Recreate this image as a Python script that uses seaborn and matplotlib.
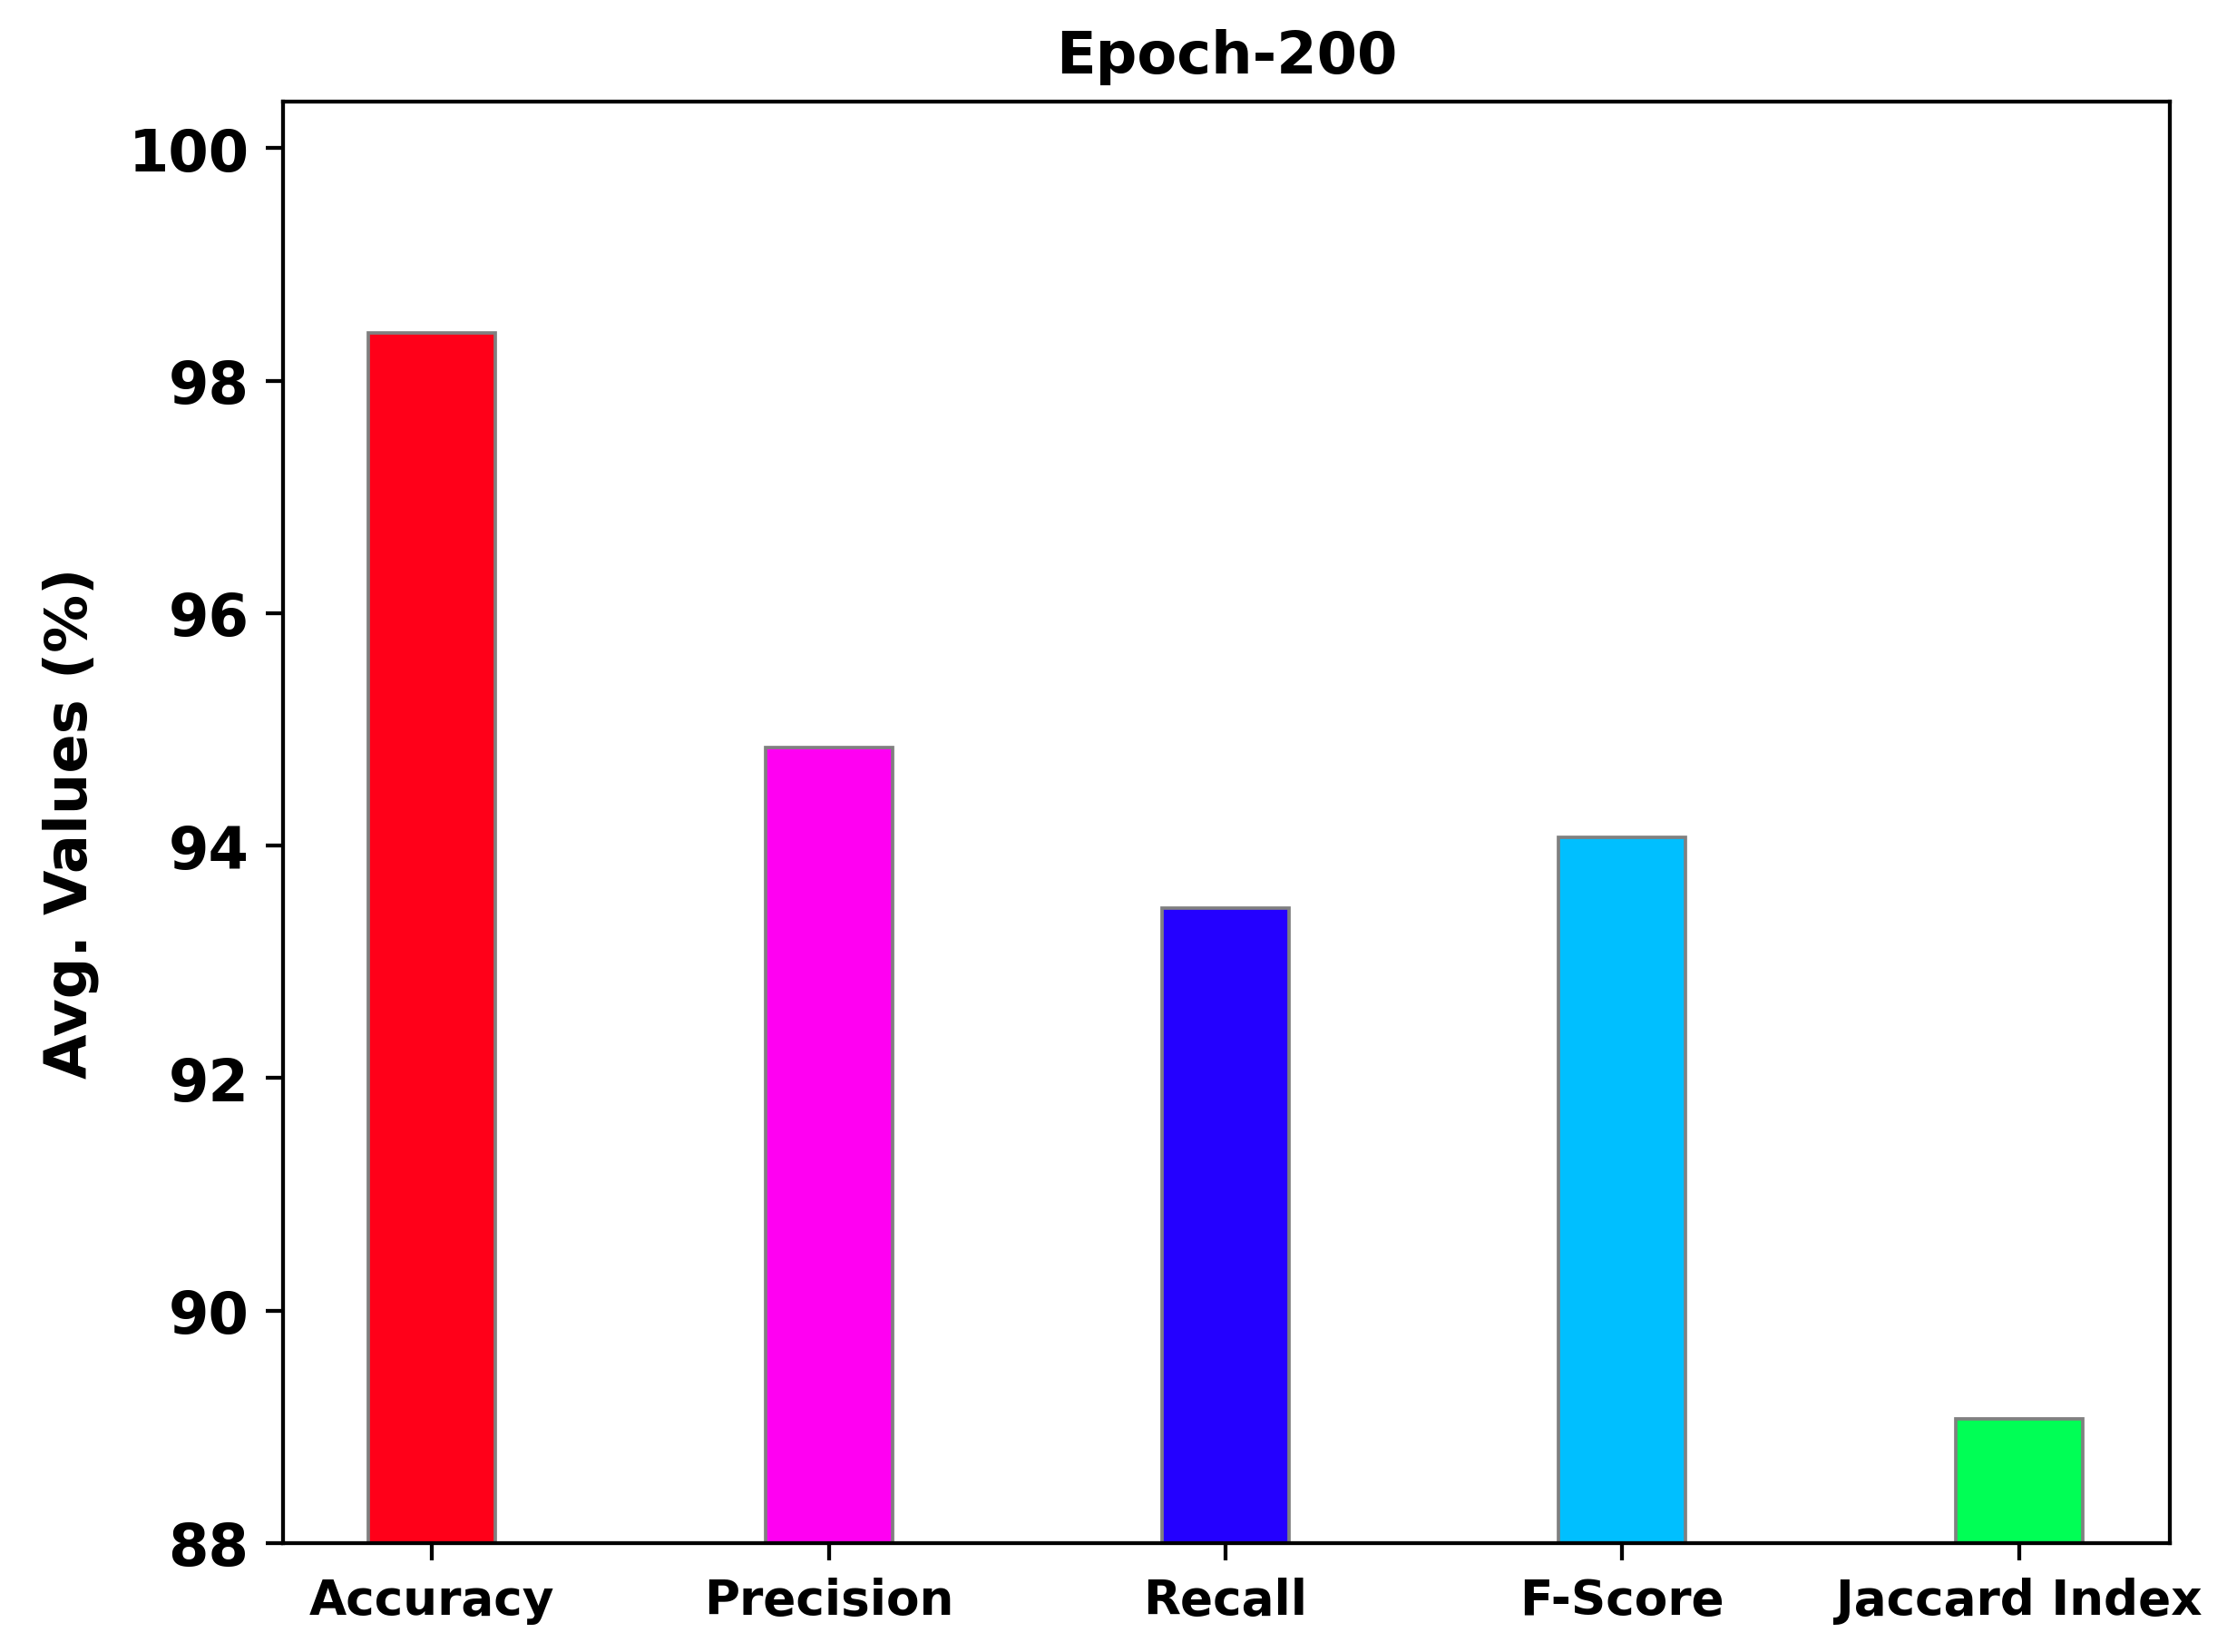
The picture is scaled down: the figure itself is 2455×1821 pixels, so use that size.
import matplotlib
matplotlib.use("Agg")
import matplotlib.pyplot as plt
import seaborn as sns
import pandas as pd

categories = ["Accuracy", "Precision", "Recall", "F-Score", "Jaccard Index"]
values = [98.41, 94.84, 93.46, 94.07, 89.07]
colors = ["#FF0019", "#FF00F2", "#2400FF", "#00BFFF", "#00FF55"]
yticks = [88, 90, 92, 94, 96, 98, 100]

sns.set_style("ticks")
plt.rcParams["font.family"] = ["DejaVu Sans"]
plt.rcParams["text.color"] = "black"
plt.rcParams["axes.labelcolor"] = "black"
plt.rcParams["xtick.color"] = "black"
plt.rcParams["ytick.color"] = "black"

df = pd.DataFrame({"metric": categories, "value": values})

DPI = 383.6
fig = plt.figure(figsize=(2455 / DPI, 1822 / DPI), dpi=DPI)
ax = fig.add_axes([0.127, 0.0659, 0.9743 - 0.127, 0.938 - 0.0659])

sns.barplot(data=df, x="metric", y="value", hue="metric", palette=colors,
            legend=False, width=0.32, edgecolor="gray", linewidth=0.7,
            saturation=1, ax=ax)

ax.set_ylim(88, 100.4)
ax.set_xlim(-0.376, 4.38)
ax.set_yticks(yticks)
ax.set_yticklabels([str(t) for t in yticks], fontsize=12, fontweight="bold")
ax.set_xticks(range(len(categories)))
ax.set_xticklabels(categories, fontsize=10, fontweight="bold")
ax.set_xlabel("")
ax.set_ylabel("Avg. Values (%)", fontsize=12, fontweight="bold", labelpad=6,
              color="black")
ax.set_title("Epoch-200", fontsize=12, fontweight="bold", color="black")

for s in ax.spines.values():
    s.set_visible(True)
    s.set_color("black")
    s.set_linewidth(0.8)
ax.tick_params(axis="both", colors="black", length=3.5, width=0.8, direction="out")

fig.savefig("out.png", dpi=DPI)
